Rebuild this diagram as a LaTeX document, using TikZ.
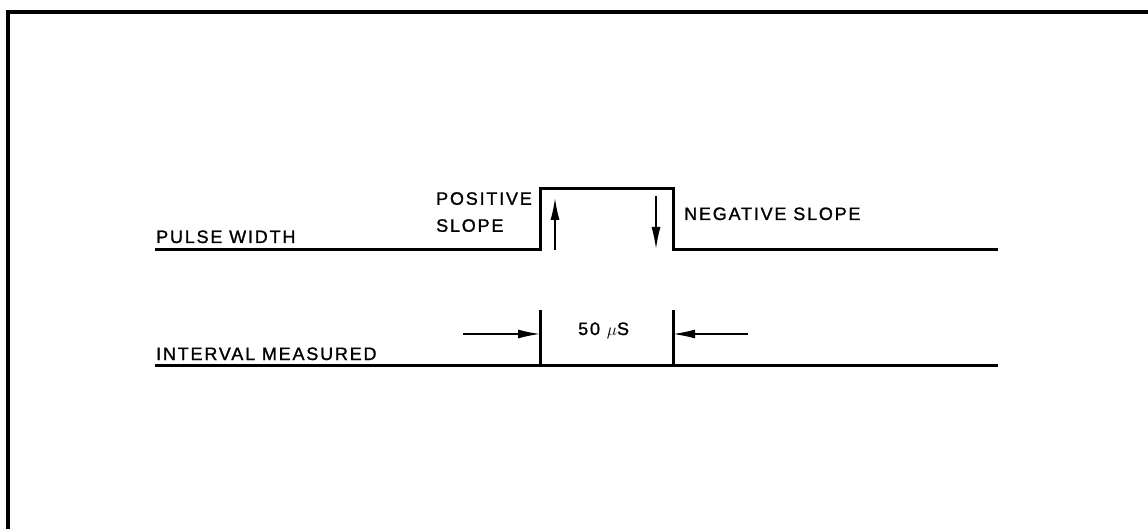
\documentclass[tikz,border=0pt]{standalone}
\usepackage{fontspec}
\setmainfont[LetterSpace=10,FakeBold=1.2]{Liberation Sans}
\usepackage{amsmath}
\usetikzlibrary{arrows.meta}

\begin{document}
\begin{tikzpicture}[x=1pt,y=-1pt]
        \tikzset{lbl/.style = {anchor=base west,inner sep=0pt,align=left,font=\fontsize{18}{27}\selectfont}};
        \tikzset{trace/.style = {line width=3pt}};
        \tikzset{edge/.style = {line width=1.5pt,-{Latex[length=22pt,width=9pt]}}};
        \useasboundingbox (0,0) rectangle (1148,529);
        % frame
        \draw[line width=3.5pt] (8,529) -- (8,12) -- (1148,12);
        % pulse width trace
        \coordinate (p0) at (155,250);
        \coordinate (p1) at (540,250);
        \coordinate (p2) at (540,189);
        \coordinate (p3) at (673,189);
        \coordinate (p4) at (673,250);
        \coordinate (p5) at (998,250);
        \draw[trace] (p0) -- (p1) -- (p2) -- (p3) -- (p4) -- (p5);
        \coordinate (up0) at (555,250);
        \coordinate (up1) at (555,198);
        \coordinate (dn0) at (656,196);
        \coordinate (dn1) at (656,249);
        \draw[edge] (up0) to (up1);
        \draw[edge] (dn0) to (dn1);
        % interval measured trace
        \coordinate (i0) at (155,365);
        \coordinate (i1) at (998,365);
        \coordinate (ta) at (540,310);
        \coordinate (tb) at (540,365);
        \coordinate (tc) at (673,310);
        \coordinate (td) at (673,365);
        \draw[trace] (i0) -- (i1);
        \draw[trace] (ta) -- (tb);
        \draw[trace] (tc) -- (td);
        \coordinate (la) at (463,334);
        \coordinate (lb) at (540,334);
        \coordinate (ra) at (748,334);
        \coordinate (rb) at (673,334);
        \draw[edge] (la) to (lb);
        \draw[edge] (ra) to (rb);
        % labels
        \node[lbl] (pw) at (156,243) {PULSE WIDTH};
        \node[lbl] (im) at (156,360) {INTERVAL MEASURED};
        \node[lbl,anchor=north west] (ps) at (436,192) {POSITIVE\\SLOPE};
        \node[lbl] (ns) at (684,220) {NEGATIVE SLOPE};
        \node[lbl] (us) at (578,335) {50 $\mu$S};
    \end{tikzpicture}
\end{document}
